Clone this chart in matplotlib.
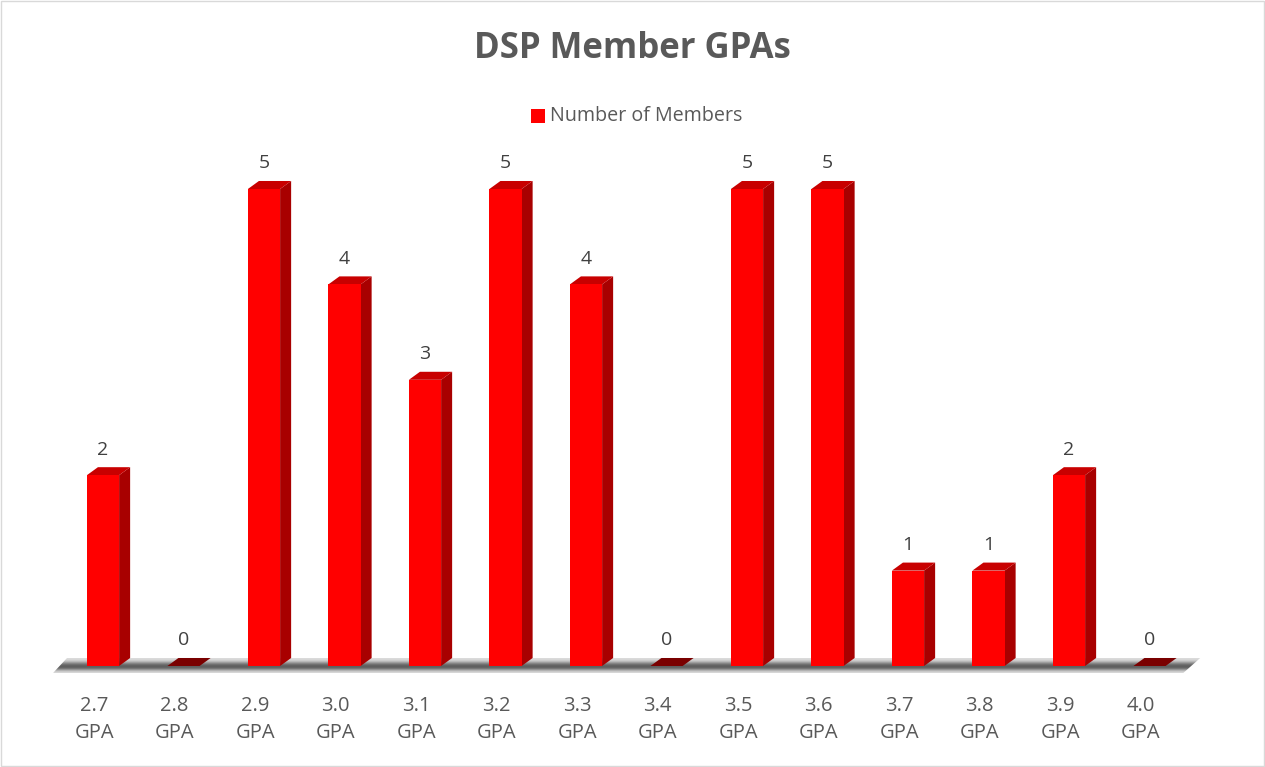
import matplotlib.pyplot as plt
import numpy as np
from matplotlib.patches import Polygon, Rectangle

categories = ['2.7', '2.8', '2.9', '3.0', '3.1', '3.2', '3.3',
              '3.4', '3.5', '3.6', '3.7', '3.8', '3.9', '4.0']
members = [2, 0, 5, 4, 3, 5, 4, 0, 5, 5, 1, 1, 2, 0]

title = 'DSP Member GPAs'
series_name = 'Number of Members'

plt.rcParams['font.family'] = ['Open Sans', 'DejaVu Sans']
text_col = '#595959'

fig = plt.figure(figsize=(12.65, 7.67), dpi=100)
ax = fig.add_axes([0, 0, 1, 1])
# pixel mapping: category i -> 103 + 80.5*i px, value v -> 666 - 95.4*v px
ax.set_xlim(-103 / 80.5, (1265 - 103) / 80.5)
ax.set_ylim(-(767 - 666) / 95.4, 666 / 95.4)
ax.axis('off')

w = 0.40      # bar front width
dx = 0.137    # depth offset x
dy = 0.084    # depth offset y

# floor with gradient
floor = [(-0.62, -0.073), (-0.447, dy), (13.63, dy), (13.42, -0.073)]
fpoly = Polygon(floor, closed=True, facecolor='none', edgecolor='none')
ax.add_patch(fpoly)
grad = np.array([0.85, 0.68, 0.42, 0.35, 0.42, 0.60, 0.80, 0.86]).reshape(-1, 1)
im = ax.imshow(grad, cmap='gray', vmin=0, vmax=1, aspect='auto',
               extent=(-0.62, 13.63, -0.073, dy), origin='lower',
               interpolation='bicubic', zorder=1)
im.set_clip_path(fpoly)

for i, v in enumerate(members):
    x0, x1 = i - w / 2, i + w / 2
    if v == 0:
        ax.add_patch(Polygon([(x0, 0), (x1, 0), (x1 + dx, dy), (x0 + dx, dy)],
                             closed=True, facecolor='#7A0000', edgecolor='none', zorder=3))
        top = dy
    else:
        ax.add_patch(Polygon([(x1, 0), (x1 + dx, dy), (x1 + dx, v + dy), (x1, v)],
                             closed=True, facecolor='#A80000', edgecolor='none', zorder=3))
        ax.add_patch(Polygon([(x0, v), (x1, v), (x1 + dx, v + dy), (x0 + dx, v + dy)],
                             closed=True, facecolor='#C80000', edgecolor='none', zorder=3))
        ax.add_patch(Rectangle((x0, 0), w, v, facecolor='#FF0000',
                               edgecolor='none', zorder=4))
        top = v + dy
    ax.text(i, top + 0.09, str(v), ha='center', va='bottom',
            fontsize=14, color='#404040', zorder=5)
    ax.text(i - 0.11, -0.31, categories[i] + '\nGPA', ha='center', va='top',
            fontsize=14.5, color=text_col, linespacing=1.5)

fig.text(632 / 1265, 1 - 49 / 767, title, ha='center', va='center',
         fontsize=25, fontweight='bold', color=text_col)
fig.patches.append(Rectangle((531 / 1265, 1 - 123 / 767), 14 / 1265, 14 / 767,
                             transform=fig.transFigure, facecolor='#FF0000',
                             edgecolor='none'))
fig.text(550 / 1265, 1 - 116 / 767, series_name, ha='left', va='center',
         fontsize=14.2, color=text_col)
fig.patches.append(Rectangle((0.0008, 0.0013), 0.9984, 0.9974, transform=fig.transFigure,
                             facecolor='none', edgecolor='#D9D9D9', linewidth=1))

fig.savefig('out.png', dpi=100)
